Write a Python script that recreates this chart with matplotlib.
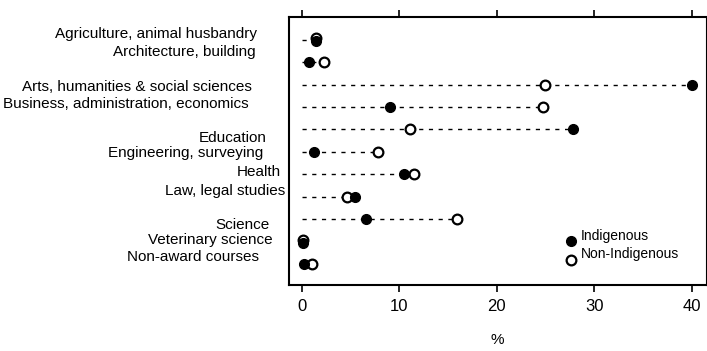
import numpy as np
import matplotlib.pyplot as plt
import matplotlib.transforms as mtransforms

plt.rcParams['font.family'] = ['Liberation Sans Narrow', 'Liberation Sans', 'DejaVu Sans']

fields = ['Agriculture, animal husbandry', 'Architecture, building',
          'Arts, humanities & social sciences', 'Business, administration, economics',
          'Education', 'Engineering, surveying', 'Health', 'Law, legal studies',
          'Science', 'Veterinary science', 'Non-award courses']
indigenous = [1.5, 0.7, 40.0, 9.0, 27.8, 1.2, 10.5, 5.4, 6.6, 0.1, 0.2]
non_indigenous = [1.5, 2.3, 24.9, 24.7, 11.1, 7.8, 11.5, 4.6, 15.9, 0.1, 1.0]
xticks = [0, 10, 20, 30, 40]

# label nudges (points) to mimic the scanned original
label_dx = [-23, -24, -27, -29, -16, -19, -6, -3, -14, -12, -22]
label_dy = [4, 7, -2, 2, -6, -1, 2, 4, -4, 1, 5]

fig = plt.figure(figsize=(7.07, 3.51), dpi=100)
ax = fig.add_axes([0.409, 0.188, 0.589, 0.764])

rows = np.arange(len(fields))
for i in rows:
    hi = max(indigenous[i], non_indigenous[i])
    ax.plot([0, hi], [i, i], color='black', lw=1.0, ls=(0, (3, 4)), zorder=1)

# where both values coincide the open circle sits a little above the filled one
tie = np.isclose(indigenous, non_indigenous)
ni_rows = rows - 0.09 * tie
ind_rows = rows + 0.06 * tie

ax.plot(non_indigenous, ni_rows, 'o', ms=7, mfc='white', mec='black', mew=1.6,
        ls='none', zorder=2)
ax.plot(indigenous, ind_rows, 'o', ms=7, mfc='black', mec='black',
        ls='none', zorder=3)

ax.set_xlim(-1.3, 41.4)
ax.set_ylim(10.93, -1.02)
ax.set_xticks(xticks)
ax.set_xticklabels([str(t) for t in xticks], family='Liberation Sans', fontsize=12)
ax.tick_params(axis='x', which='both', top=True, bottom=True, direction='out',
               length=5, width=1.2, pad=5)
ax.set_yticks([])
ax.set_xlabel('%', family='Liberation Sans', fontsize=11, labelpad=14)

for sp in ['left', 'bottom', 'top']:
    ax.spines[sp].set_linewidth(1.5)
ax.spines['right'].set_linewidth(0.8)

trans = mtransforms.blended_transform_factory(ax.transAxes, ax.transData)
for i, name in enumerate(fields):
    ax.annotate(name, xy=(0, i), xycoords=trans, xytext=(label_dx[i], label_dy[i]),
                textcoords='offset points', ha='right', va='center', fontsize=11)

# legend
ax.plot([27.6], [8.95], 'o', ms=7, mfc='black', mec='black', clip_on=False)
ax.plot([27.6], [9.8], 'o', ms=7, mfc='white', mec='black', mew=1.6, clip_on=False)
ax.text(28.6, 8.75, 'Indigenous', fontsize=10, va='center')
ax.text(28.6, 9.55, 'Non-Indigenous', fontsize=10, va='center')

fig.savefig('out.png', dpi=100)
